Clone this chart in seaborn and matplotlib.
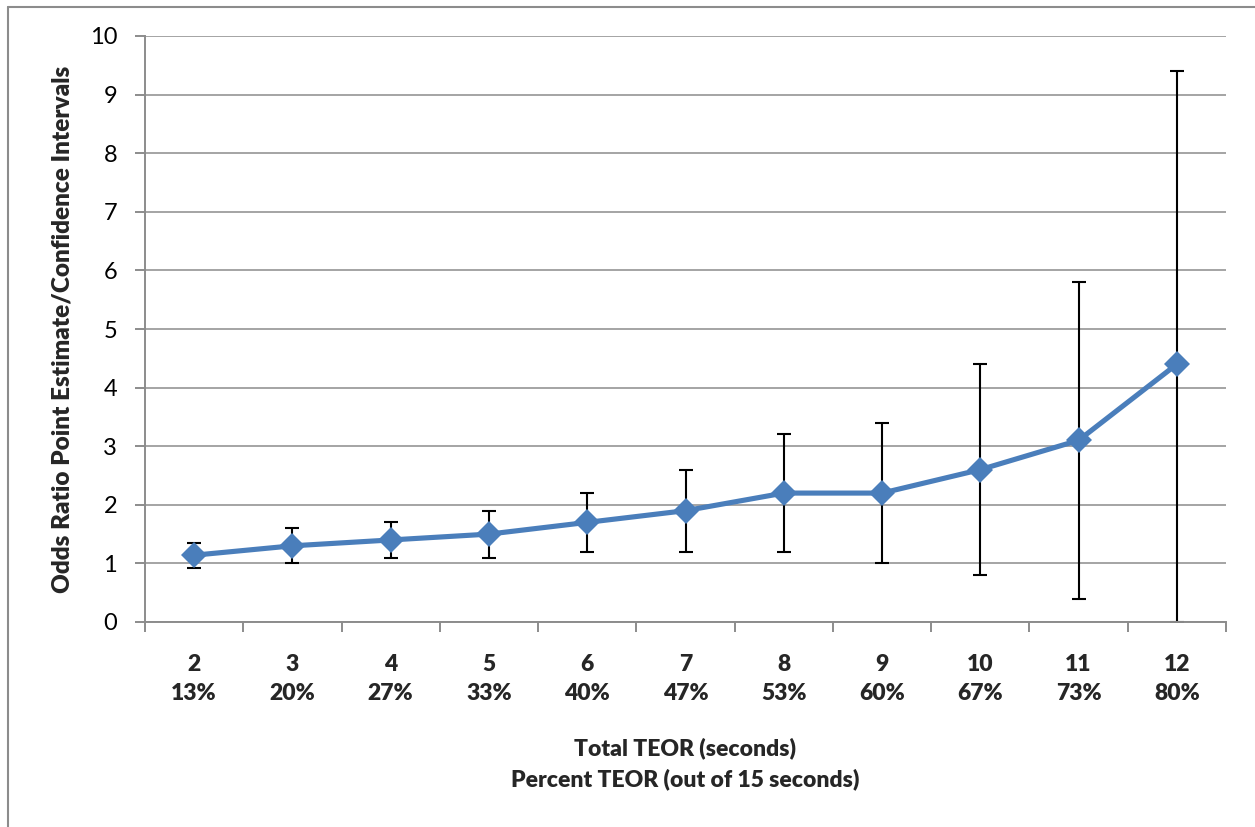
import matplotlib
matplotlib.use("Agg")
import matplotlib.pyplot as plt
import seaborn as sns
import pandas as pd
import numpy as np
from matplotlib.lines import Line2D

seconds = ["2", "3", "4", "5", "6", "7", "8", "9", "10", "11", "12"]
percents = ["13%", "20%", "27%", "33%", "40%", "47%", "53%", "60%", "67%", "73%", "80%"]
odds = [1.14, 1.3, 1.4, 1.5, 1.7, 1.9, 2.2, 2.2, 2.6, 3.1, 4.4]
ci_low = [0.93, 1.0, 1.1, 1.1, 1.2, 1.2, 1.2, 1.0, 0.8, 0.4, 0.0]
ci_high = [1.35, 1.6, 1.7, 1.9, 2.2, 2.6, 3.2, 3.4, 4.4, 5.8, 9.4]

sns.set_theme(style="white")
plt.rcParams['font.family'] = ['Lato', 'DejaVu Sans']

df = pd.DataFrame({"pos": np.arange(len(seconds)), "odds": odds,
                   "lo": ci_low, "hi": ci_high})

W, H = 1255, 827
fig = plt.figure(figsize=(W / 100, H / 100), dpi=100)
ax = fig.add_axes([145 / W, (H - 622) / H, (1226 - 145) / W, (622 - 36) / H])

grid_c = "#8c8c8c"
ax.set_ylim(0, 10)
ax.set_xlim(-0.5, len(seconds) - 0.5)
ax.set_yticks(range(0, 11))
ax.yaxis.grid(True, color=grid_c, linewidth=1.1)
ax.set_axisbelow(True)

ax.errorbar(df["pos"], df["odds"],
            yerr=[df["odds"] - df["lo"], df["hi"] - df["odds"]],
            fmt="none", ecolor="black", elinewidth=1.5, capsize=5,
            capthick=1.5, zorder=2)

sns.lineplot(data=df, x="pos", y="odds", ax=ax, color="#4a7ebb",
             linewidth=3.7, marker="D", markersize=13, markeredgewidth=0,
             zorder=3)

for s in ["top", "right"]:
    ax.spines[s].set_visible(False)
for s in ["left", "bottom"]:
    ax.spines[s].set_color(grid_c)
    ax.spines[s].set_linewidth(1.4)

ax.set_xticks(df["pos"])
ax.set_xticklabels([f"{a}\n{b}" for a, b in zip(seconds, percents)],
                   fontweight="heavy", fontsize=16.5, linespacing=1.5)
ax.set_xticks(np.arange(-0.5, len(seconds)), minor=True)
ax.tick_params(axis="x", which="major", length=0, pad=23)
ax.tick_params(axis="x", which="minor", length=7, width=1.4, color=grid_c,
               direction="out", bottom=True)
ax.tick_params(axis="y", length=7, width=1.4, color=grid_c, direction="out",
               pad=13, labelsize=17, left=True)
for lab in ax.get_yticklabels():
    lab.set_color("black")

ax.set_xlabel("Total TEOR (seconds)\nPercent TEOR (out of 15 seconds)",
              fontweight="heavy", fontsize=16.5, linespacing=1.5, labelpad=24)
ax.set_ylabel("Odds Ratio Point Estimate/Confidence Intervals",
              fontweight="heavy", fontsize=17.5, labelpad=12)

fig.add_artist(Line2D([8 / W, 8 / W], [0, 1 - 7 / H], color="#8c8c8c",
                      linewidth=1.5, transform=fig.transFigure))
fig.add_artist(Line2D([8 / W, 1], [1 - 7 / H, 1 - 7 / H], color="#8c8c8c",
                      linewidth=1.5, transform=fig.transFigure))

fig.savefig("out.png", dpi=100)
